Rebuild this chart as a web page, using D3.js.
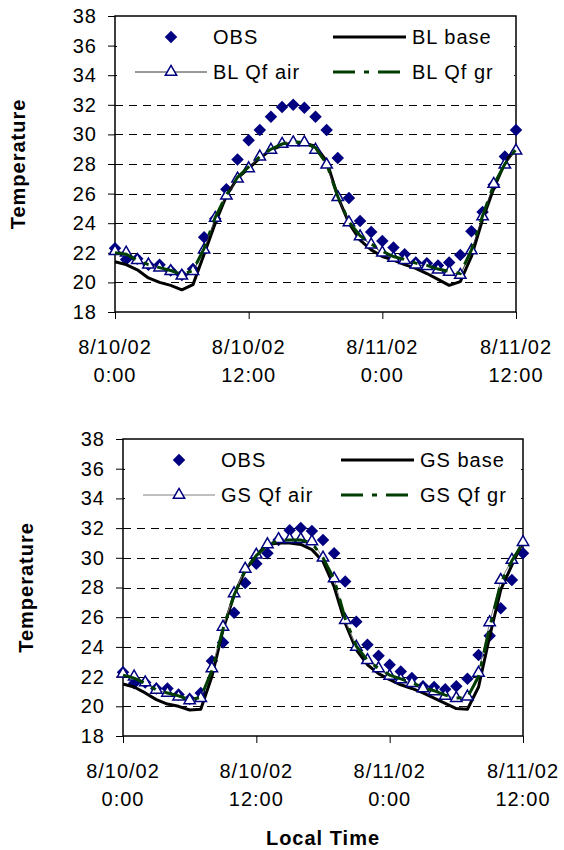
<!DOCTYPE html>
<html>
<head>
<meta charset="utf-8">
<script src="https://cdn.jsdelivr.net/npm/d3@7"></script>
<style>
    html, body { margin: 0; padding: 0; background: #fff; }
    svg text { font-family: "Liberation Sans", Arial, sans-serif; font-size: 20px; letter-spacing: 1px; fill: #000; }
</style>
</head>
<body>
<svg id="chart" width="564" height="850"></svg>
<script>
// hours since 8/10/02 0:00
const hours = [0, 1, 2, 3, 4, 5, 6, 7, 8, 9, 10, 11, 12, 13, 14, 15, 16, 17, 18,
    19, 20, 21, 22, 23, 24, 25, 26, 27, 28, 29, 30, 31, 32, 33, 34, 35, 36];

// observed temperature (same station in both panels)
const obs = [22.3, 21.55, 21.6, 21.2, 21.2, 20.8, 20.5, 20.9, 23.05, 24.3, 26.3, 28.3, 29.6, 30.3,
    31.2, 31.85, 32.0, 31.8, 31.2, 30.3, 28.4, 25.7, 24.15, 23.4, 22.8, 22.35, 21.9, 21.35,
    21.3, 21.15, 21.35, 21.85, 23.45, 24.75, 26.6, 28.5, 30.3];

// BL runs
const blBase = [21.4, 21.2, 20.85, 20.3, 20.0, 19.8, 19.5, 19.85, 21.9, 24.0, 25.85, 27.05, 27.7, 28.4,
    28.95, 29.25, 29.45, 29.4, 29.2, 28.2, 25.8, 24.0, 22.85, 22.2, 21.75, 21.5, 21.2, 20.95,
    20.6, 20.2, 19.8, 20.05, 21.75, 24.25, 26.35, 28.05, 29.2];
const blQfAir = [22.1, 22.0, 21.5, 21.2, 21.0, 20.75, 20.45, 20.75, 22.2, 24.35, 25.85, 27.0, 27.7, 28.5,
    28.95, 29.35, 29.45, 29.45, 28.95, 27.95, 25.75, 24.05, 23.1, 22.55, 22.0, 21.65, 21.5, 21.2,
    21.1, 20.85, 20.7, 20.5, 22.15, 24.45, 26.65, 27.95, 28.9];
const blQfGr = [22.0, 21.9, 21.5, 21.2, 21.0, 20.8, 20.55, 20.8, 22.3, 24.4, 25.9, 27.1, 27.8, 28.5,
    29.0, 29.35, 29.5, 29.45, 29.1, 28.0, 25.8, 24.1, 23.15, 22.6, 22.1, 21.75, 21.55, 21.3,
    21.15, 20.9, 20.75, 20.6, 22.2, 24.5, 26.6, 28.0, 29.0];

// GS runs
const gsBase = [21.5, 21.3, 20.9, 20.45, 20.15, 20.0, 19.75, 19.8, 22.0, 25.15, 27.5, 29.15, 30.2, 30.9,
    31.0, 31.0, 30.9, 30.55, 29.75, 28.05, 25.6, 23.8, 22.8, 22.2, 21.8, 21.45, 21.2, 20.9,
    20.55, 20.2, 19.85, 19.8, 21.3, 24.7, 27.85, 29.5, 31.1];
const gsQfAir = [22.2, 22.0, 21.6, 21.1, 20.9, 20.65, 20.4, 20.55, 22.55, 25.35, 27.6, 29.25, 30.2, 30.9,
    31.25, 31.25, 31.25, 31.1, 30.0, 28.6, 25.8, 24.0, 23.1, 22.55, 22.05, 21.8, 21.55, 21.2,
    21.0, 20.7, 20.55, 20.65, 22.25, 25.65, 28.5, 29.85, 31.05];
const gsQfGr = [22.1, 21.9, 21.55, 21.1, 20.9, 20.7, 20.45, 20.6, 22.4, 25.2, 27.5, 29.15, 30.15, 30.85,
    31.15, 31.2, 31.2, 31.0, 30.0, 28.55, 25.9, 24.05, 23.1, 22.55, 22.1, 21.85, 21.6, 21.25,
    21.05, 20.75, 20.55, 20.6, 22.0, 25.3, 28.3, 29.8, 31.0];

const yTicks = [18, 20, 22, 24, 26, 28, 30, 32, 34, 36, 38];
const xTicks = [0, 12, 24, 36];
const xTickLabels = [['8/10/02', '0:00'], ['8/10/02', '12:00'], ['8/11/02', '0:00'], ['8/11/02', '12:00']];

const blNames = ['OBS', 'BL base', 'BL Qf air', 'BL Qf gr'];
const gsNames = ['OBS', 'GS base', 'GS Qf air', 'GS Qf gr'];

const navy = '#000080';
const green = '#003d00';

const svg = d3.select('#chart');
svg.append('rect').attr('width', 564).attr('height', 850).attr('fill', '#fff');

drawPanel({ left: 115, right: 516, top: 16, bottom: 312, titleX: 25,
    base: blBase, air: blQfAir, gr: blQfGr, names: blNames, airLine: '#333' });
drawPanel({ left: 123, right: 523, top: 439, bottom: 736, titleX: 33,
    base: gsBase, air: gsQfAir, gr: gsQfGr, names: gsNames, airLine: '#808080' });

// shared x axis title
svg.append('text')
    .attr('x', 323).attr('y', 845)
    .attr('text-anchor', 'middle')
    .style('font-weight', 'bold')
    .text('Local Time');

function drawPanel(p) {
    const x = d3.scaleLinear().domain([0, 36]).range([p.left, p.right]);
    const y = d3.scaleLinear().domain([18, 38]).range([p.bottom, p.top]);
    const g = svg.append('g');

    // dashed gridlines
    g.append('g')
        .selectAll('line')
        .data(yTicks.filter(d => d > 18 && d < 38))
        .enter().append('line')
        .attr('x1', p.left).attr('x2', p.right)
        .attr('y1', d => Math.round(y(d)) + 0.5)
        .attr('y2', d => Math.round(y(d)) + 0.5)
        .attr('stroke', '#000')
        .attr('stroke-width', 1)
        .attr('stroke-dasharray', '8,6');

    // legend box hides the upper gridlines
    g.append('rect')
        .attr('x', p.left + 2).attr('y', p.top + 2)
        .attr('width', p.right - p.left - 4).attr('height', 72)
        .attr('fill', '#fff');

    // plot border
    g.append('rect')
        .attr('x', p.left).attr('y', p.top)
        .attr('width', p.right - p.left).attr('height', p.bottom - p.top)
        .attr('fill', 'none')
        .attr('stroke', '#000')
        .attr('stroke-width', 1.5);

    // y axis
    const yAxis = g.append('g')
        .attr('transform', `translate(${p.left},0)`)
        .call(d3.axisLeft(y).tickValues(yTicks).tickSize(7).tickSizeOuter(0).tickPadding(11));
    yAxis.select('.domain').remove();
    yAxis.selectAll('text').style('font-size', '20px').style('font-family', null);

    // x axis ticks
    const xAxis = g.append('g')
        .attr('transform', `translate(0,${p.bottom})`)
        .call(d3.axisBottom(x).tickValues(xTicks).tickSize(7).tickSizeOuter(0).tickFormat(''));
    xAxis.select('.domain').remove();

    // two-line tick labels
    const lbl = g.append('g').selectAll('text')
        .data(xTicks)
        .enter().append('text')
        .attr('text-anchor', 'middle')
        .attr('transform', d => `translate(${x(d)},${p.bottom})`);
    lbl.append('tspan').attr('x', 0).attr('y', 42).text((d, i) => xTickLabels[i][0]);
    lbl.append('tspan').attr('x', 0).attr('y', 70).text((d, i) => xTickLabels[i][1]);

    // y title
    g.append('text')
        .attr('transform', `translate(${p.titleX},${(p.top + p.bottom) / 2}) rotate(-90)`)
        .attr('text-anchor', 'middle')
        .style('font-weight', 'bold')
        .text('Temperature');

    const line = d3.line()
        .x((d, i) => x(hours[i]))
        .y(d => y(d));

    const diamond = d3.symbol().type(d3.symbolSquare).size(78);
    const triangle = d3.symbol().type(d3.symbolTriangle).size(56);

    // OBS diamonds
    g.append('g')
        .selectAll('path')
        .data(obs)
        .enter().append('path')
        .attr('d', diamond)
        .attr('transform', (d, i) => `translate(${x(hours[i])},${y(d)}) rotate(45)`)
        .attr('fill', navy);

    // base run
    g.append('path')
        .datum(p.base)
        .attr('d', line)
        .attr('fill', 'none')
        .attr('stroke', '#000')
        .attr('stroke-width', 3)
        .attr('stroke-linejoin', 'round');

    // Qf air run, thin line with open triangles
    g.append('path')
        .datum(p.air)
        .attr('d', line)
        .attr('fill', 'none')
        .attr('stroke', p.airLine)
        .attr('stroke-width', 1);
    g.append('g')
        .selectAll('path')
        .data(p.air)
        .enter().append('path')
        .attr('d', triangle)
        .attr('transform', (d, i) => `translate(${x(hours[i])},${y(d)})`)
        .attr('fill', '#fff')
        .attr('stroke', navy)
        .attr('stroke-width', 1.5);

    // Qf ground run, dash-dot
    g.append('path')
        .datum(p.gr)
        .attr('d', line)
        .attr('fill', 'none')
        .attr('stroke', green)
        .attr('stroke-width', 3)
        .attr('stroke-dasharray', '22,9,5,9');

    // legend
    const ly1 = p.top + 21;
    const ly2 = p.top + 56;
    const lg = g.append('g');

    lg.append('path')
        .attr('d', diamond)
        .attr('transform', `translate(${p.left + 56},${ly1}) rotate(45)`)
        .attr('fill', navy);

    lg.append('line')
        .attr('x1', p.left + 20).attr('x2', p.left + 92)
        .attr('y1', ly2).attr('y2', ly2)
        .attr('stroke', p.airLine).attr('stroke-width', 1);
    lg.append('path')
        .attr('d', triangle)
        .attr('transform', `translate(${p.left + 56},${ly2})`)
        .attr('fill', '#fff').attr('stroke', navy).attr('stroke-width', 1.5);

    lg.append('line')
        .attr('x1', p.left + 218).attr('x2', p.left + 291)
        .attr('y1', ly1).attr('y2', ly1)
        .attr('stroke', '#000').attr('stroke-width', 3);
    lg.append('line')
        .attr('x1', p.left + 218).attr('x2', p.left + 288)
        .attr('y1', ly2).attr('y2', ly2)
        .attr('stroke', green).attr('stroke-width', 3)
        .attr('stroke-dasharray', '22,9,5,9');

    const legendText = [
        { x: p.left + 98, y: ly1, t: p.names[0] },
        { x: p.left + 297, y: ly1, t: p.names[1] },
        { x: p.left + 98, y: ly2, t: p.names[2] },
        { x: p.left + 297, y: ly2, t: p.names[3] }
    ];
    lg.selectAll('text')
        .data(legendText)
        .enter().append('text')
        .attr('x', d => d.x)
        .attr('y', d => d.y)
        .attr('dy', '0.36em')
        .text(d => d.t);
}
</script>
</body>
</html>
